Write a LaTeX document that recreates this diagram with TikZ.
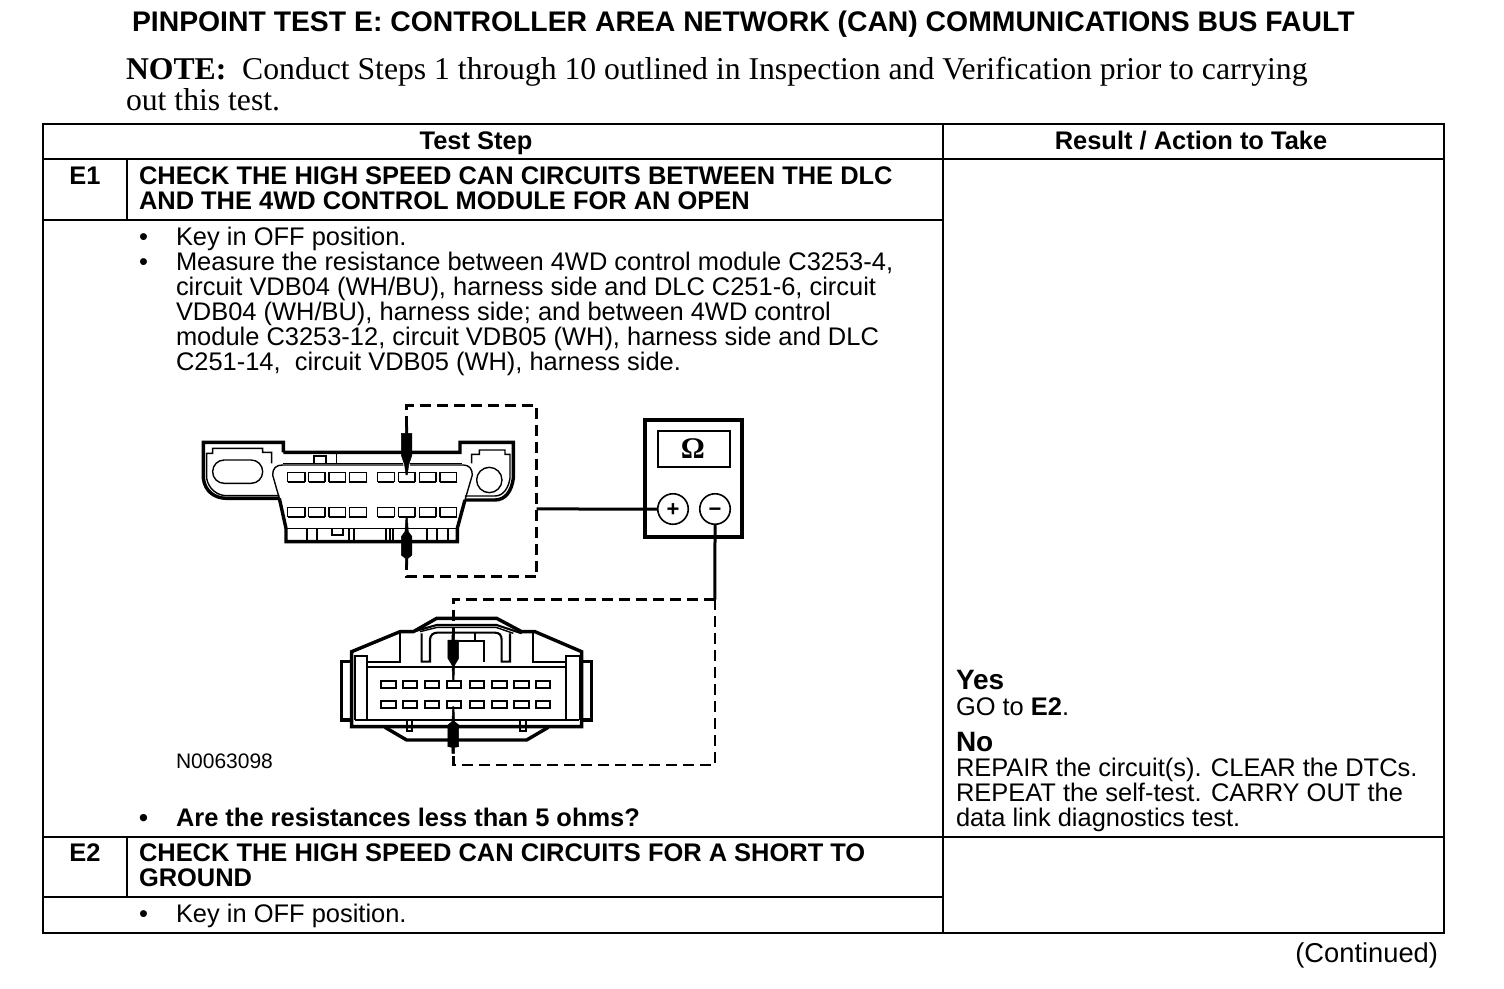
\documentclass[tikz,border=0pt]{standalone}
\usepackage{fontspec}
\setmainfont{Liberation Sans}
\newfontfamily\serifnote{Liberation Serif}
\usetikzlibrary{calc}
\tikzset{
 x=1pt,y=-1pt,
 rule/.style={line width=2pt,line cap=rect},
 body/.style={anchor=base west,inner sep=0pt,outer sep=0pt,yshift=-0.7pt,font=\fontsize{25.45}{25}\selectfont},
 bodyb/.style={body,font=\fontsize{25.45}{25}\bfseries\selectfont},
 head/.style={bodyb,anchor=base},
 big/.style={body,font=\fontsize{28}{30}\bfseries\selectfont},
 notet/.style={body,font=\fontsize{31.7}{30}\serifnote\selectfont},
 thick1/.style={line width=3.4pt,line join=miter},
 thin1/.style={line width=1.4pt},
 med1/.style={line width=2.1pt},
 dash1/.style={line width=3pt,dash pattern=on 11pt off 6pt},
 wire/.style={line width=3pt},
 probe/.style={fill=black,draw=black,line width=.5pt},
 jack/.style={circle,draw,line width=1.6pt,minimum size=30.5pt,inner sep=0pt,font=\fontsize{22}{22}\bfseries\selectfont},
}
\begin{document}
\begin{tikzpicture}
\useasboundingbox (0,0) rectangle (1504,988);
\fill[white] (0,0) rectangle (1504,988);
% heading
\node[body,font=\fontsize{28.35}{30}\bfseries\selectfont] (title) at (132,30.5) {PINPOINT TEST E: CONTROLLER AREA NETWORK (CAN) COMMUNICATIONS BUS FAULT};
\node[notet] (note1) at (126,79) {{\bfseries NOTE:}\ \ Conduct Steps 1 through 10 outlined in Inspection and Verification prior to carrying};
\node[notet] (note2) at (126,110) {out this test.};
% table
\draw[rule] (43,124) rectangle (1444,933);
\draw[rule] (43,159) -- (1444,159);
\draw[rule] (43,220) -- (943,220);
\draw[rule] (43,837) -- (1444,837);
\draw[rule] (43,897) -- (943,897);
\draw[rule] (943,124) -- (943,933);
\draw[rule] (127,159) -- (127,220);
\draw[rule] (127,837) -- (127,897);
% table text
\node[head] (h1) at (476,149) {Test Step};
\node[head] (h2) at (1191,149) {Result / Action to Take};
\node[head] (e1) at (85,184) {E1};
\node[bodyb] (e1a) at (139,184) {CHECK THE HIGH SPEED CAN CIRCUITS BETWEEN THE DLC};
\node[bodyb] (e1b) at (139,209) {AND THE 4WD CONTROL MODULE FOR AN OPEN};
\node[body] (b1) at (139,245) {•};
\node[body] (s1) at (176,245) {Key in OFF position.};
\node[body] (b2) at (139,270) {•};
\node[body] (s2) at (176,270) {Measure the resistance between 4WD control module C3253-4,};
\node[body] (s3) at (176,295) {circuit VDB04 (WH/BU), harness side and DLC C251-6, circuit};
\node[body] (s4) at (176,320) {VDB04 (WH/BU), harness side; and between 4WD control};
\node[body] (s5) at (176,345) {module C3253-12, circuit VDB05 (WH), harness side and DLC};
\node[body] (s6) at (176,370) {C251-14,\ \ circuit VDB05 (WH), harness side.};
\node[body,font=\fontsize{21}{24}\selectfont] (ncode) at (176,768) {N0063098};
\node[bodyb] (b3) at (139,826) {•};
\node[bodyb] (s7) at (176,826) {Are the resistances less than 5 ohms?};
\node[head] (e2) at (85,861) {E2};
\node[bodyb] (e2a) at (139,861) {CHECK THE HIGH SPEED CAN CIRCUITS FOR A SHORT TO};
\node[bodyb] (e2b) at (139,886) {GROUND};
\node[body] (b4) at (139,922) {•};
\node[body] (s8) at (176,922) {Key in OFF position.};
\node[big] (yes) at (956,689) {Yes};
\node[body] (r1) at (956,715) {GO to {\bfseries E2}.};
\node[big] (no) at (956,751) {No};
\node[body] (r2) at (956,776) {REPAIR the circuit(s). CLEAR the DTCs.};
\node[body] (r3) at (956,801) {REPEAT the self-test. CARRY OUT the};
\node[body] (r4) at (956,826) {data link diagnostics test.};
\node[body,anchor=base east,font=\fontsize{27.3}{30}\selectfont] (cont) at (1438,962) {(Continued)};
% meter
\draw[line width=3.5pt] (645,420) rectangle (742,537);
\draw[med1] (658,431) rectangle (730,467);
\node[inner sep=0pt,font=\fontsize{30}{30}\serifnote\bfseries\selectfont] (ohm) at (693,449) {Ω};
\node[jack] (plus) at (673,509) {\smash{\raisebox{-7.5pt}{+}}};
\node[jack] (minus) at (715,509) {\smash{\raisebox{-7.5pt}{−}}};
% DLC connector
\begin{scope}[shift={(190,395)},x=.3333pt,y=-.3333pt]
 \draw[thick1] (280,172) -- (280,142) -- (40,142) -- (40,250) .. controls (45,290) and (75,310) .. (110,310) -- (268,310);
 \draw[thin1] (245,205) -- (245,172) -- (218,172) -- (218,160) -- (68,160) -- (68,175) -- (50,175) -- (50,250) .. controls (55,280) and (80,302) .. (110,302) -- (268,302);
 \draw[thin1,rounded corners=11.5pt] (68,195) rectangle (218,265);
 \draw[thick1] (280,172) -- (636,172) (666,172) -- (810,172) -- (810,142) -- (970,142) -- (970,250) .. controls (965,290) and (945,315) .. (915,315) -- (825,315);
 \draw[thin1] (845,205) -- (845,178) -- (868,178) -- (868,165) -- (945,165) -- (945,178) -- (960,178) -- (960,250) .. controls (955,280) and (940,303) .. (915,303) -- (825,303);
 \draw[thin1] (898,255) circle (38);
 \draw[thin1] (278,205) -- (640,205) (660,205) -- (815,205);
 \draw[thin1] (440,172) -- (440,205);
 \draw[med1] (373,205) -- (373,182) -- (408,182) -- (408,205);
 \draw[thin1] (248,240) .. controls (248,220) and (258,210) .. (278,210) -- (640,210) (660,210) -- (820,210) .. controls (838,210) and (847,222) .. (847,240);
 \draw[thin1] (248,240) -- (268,310);
 \draw[thin1] (847,240) -- (825,315);
 \draw[thick1] (268,310) -- (288,400) -- (288,440) -- (802,440) -- (802,400) -- (825,315);
 \draw[thin1] (288,400) -- (802,400);
 \foreach \xx in {350,380,478,492,588,600,610,712,742,775} \draw[med1] (\xx,400) -- (\xx,440);
 \draw[med1] (425,400) -- (425,420) -- (458,420) -- (458,400);
 \foreach \a/\b in {293/345,356/405,417/467,478/530,563/613,626/675,688/738,750/800} {
  \draw[thin1] (\a,262) -- (\a,232) -- (\b,232) -- (\b,262);
  \draw[med1] (\a,262) -- (\b,262);
  \draw[thin1] (\a,365) -- (\a,337) -- (\b,337) -- (\b,365);
  \draw[med1] (\a,365) -- (\b,365);
 }
 \draw[probe] (646,95) -- (654,95) -- (654,115) -- (666,115) -- (666,180) -- (656,210) -- (652,240) -- (648,240) -- (644,210) -- (634,180) -- (634,115) -- (646,115) -- cycle;
 \draw[probe] (648,365) -- (652,365) -- (655,410) -- (666,425) -- (666,480) -- (654,490) -- (654,510) -- (646,510) -- (646,490) -- (634,480) -- (634,425) -- (645,410) -- cycle;
 \coordinate (dtop) at (650,95);
 \coordinate (dbot) at (650,510);
 \coordinate (dA) at (650,32);
 \coordinate (dB) at (1040,32);
 \coordinate (dC) at (1040,545);
 \coordinate (dD) at (650,545);
 \coordinate (dW) at (1040,342);
\end{scope}
\draw[dash1] (dtop) -- (dA) -- (dB) -- (dC) -- (dD) -- (dbot);
\draw[wire] (dW) -- (plus.west);
% module connector
\begin{scope}[shift={(330,590)},x=.3333pt,y=-.3333pt]
 \draw[thick1] (65,185) -- (210,125) -- (250,125) -- (320,85) -- (500,85) -- (575,125) -- (615,125) -- (755,185) -- (755,410) -- (65,410) -- cycle;
 \draw[med1] (250,125) -- (320,105) -- (500,105) -- (575,130);
 \draw[thin1] (270,125) -- (322,112) -- (498,112) -- (550,130);
 \draw[thick1] (65,215) -- (35,215) -- (35,390) -- (65,390);
 \draw[thick1] (755,215) -- (785,215) -- (785,390) -- (755,390);
 \draw[med1] (75,390) -- (75,197) -- (110,197) -- (110,390);
 \draw[med1] (708,390) -- (708,197) -- (750,197) -- (750,390);
 \draw[med1] (75,390) -- (748,390);
 \draw[med1] (110,232) -- (708,232);
 \draw[med1] (110,215) -- (210,215) -- (210,125);
 \draw[med1] (708,215) -- (610,215) -- (610,128);
 \draw[med1] (275,130) -- (275,215) -- (300,215) -- (300,150) .. controls (300,135) and (310,128) .. (322,128) -- (495,128) .. controls (508,128) and (515,135) .. (515,150) -- (515,215) -- (540,215) -- (540,130);
 \draw[med1] (385,153) -- (462,153) -- (462,215);
 \draw[med1] (435,128) -- (435,153);
 \draw[med1] (230,392) -- (230,422) -- (247,422) -- (247,392);
 \draw[med1] (570,392) -- (570,422) -- (588,422) -- (588,392);
 \draw[thick1] (165,412) -- (230,450) -- (590,450) -- (655,412);
 \foreach \a/\b in {152/197,218/262,284/328,350/392,420/463,486/530,553/597,617/660} {
  \draw[med1] (\a,272) rectangle (\b,295);
  \draw[med1] (\a,332) rectangle (\b,355);
 }
 \draw[probe] (366,135) -- (374,135) -- (374,150) -- (386,150) -- (386,205) -- (374,225) -- (372,275) -- (368,275) -- (366,225) -- (354,205) -- (354,150) -- (366,150) -- cycle;
 \draw[probe] (368,350) -- (372,350) -- (374,395) -- (386,405) -- (386,470) -- (374,472) -- (374,490) -- (366,490) -- (366,472) -- (354,470) -- (354,405) -- (366,395) -- cycle;
 \coordinate (mtop) at (370,135);
 \coordinate (mbot) at (370,490);
 \coordinate (mA) at (370,28);
 \coordinate (mB) at (1155,28);
 \coordinate (mC) at (1155,525);
 \coordinate (mD) at (370,525);
\end{scope}
\draw[wire] (minus.south) -- (mB);
\draw[line width=2.6pt,dash pattern=on 11pt off 6pt] (mB) -- (mA) -- (mtop);
\draw[line width=2.6pt,dash pattern=on 11pt off 6pt] (mB) -- (mC) -- (mD) -- (mbot);
\end{tikzpicture}
\end{document}
